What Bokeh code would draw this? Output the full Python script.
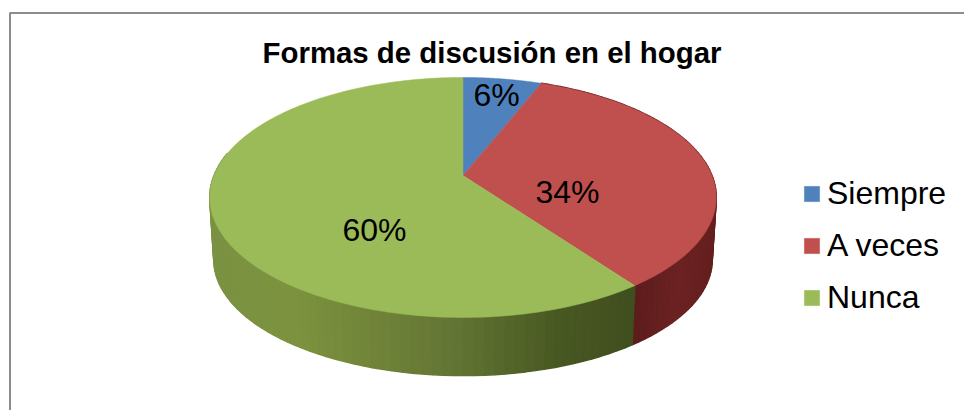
import numpy as np
from bokeh.plotting import figure
from bokeh.models import Range1d, Legend, LegendItem
from bokeh.core.properties import value
from bokeh.embed import file_html
from bokeh.resources import INLINE

TITLE = "Formas de discusión en el hogar"
CATEGORIES = ["Siempre", "A veces", "Nunca"]
VALUES = [6, 34, 60]
LABELS = ["6%", "34%", "60%"]
COLORS = ["#4f81bd", "#c0504d", "#9bbb59"]
FONT = "Liberation Sans"

# Projection of the tilted disc (picture pixels)
CX, CY, A, B, K = 462.5, 175, 249, 116, 0.183
A2, B2, OFF = 245, 112, 63

def top(t):
    u, v = np.sin(t), np.cos(t)
    w = 1 + K * v
    return CX + A * u / w, CY - B * v / w

def bottom(t):
    u, v = np.sin(t), np.cos(t)
    w = 1 + K * v
    return CX + A2 * u / w, CY + OFF - B2 * v / w

p = figure(width=964, height=410, output_backend="svg", toolbar_location=None,
           x_range=Range1d(0, 964), y_range=Range1d(410, 0), min_border=0,
           x_axis_type=None, y_axis_type=None, outline_line_color=None)
p.grid.visible = False

# chart frame
p.line([964, 9.5, 9.5], [12.5, 12.5, 410], line_color="#8c8c8c", line_width=2)

edges = np.cumsum([0] + VALUES) / sum(VALUES) * 2 * np.pi

def blend(stops, x):
    xs = [s[0] for s in stops]
    return "#%02x%02x%02x" % tuple(int(round(np.interp(x, xs, [s[1][i] for s in stops]))) for i in range(3))

GREEN_STOPS = [(208, (122, 146, 66)), (300, (124, 146, 62)), (350, (116, 136, 58)),
               (450, (100, 118, 52)), (560, (72, 88, 34)), (635, (64, 78, 30))]
RED_STOPS = [(632, (92, 28, 28)), (680, (108, 34, 34)), (717, (100, 30, 30))]

# rim, drawn as thin strips
def rim(t0, t1, stops):
    ts = np.linspace(t0, t1, 70)
    for a, b in zip(ts[:-1], ts[1:]):
        xa, ya = top(a); xb, yb = top(b)
        xc, yc = bottom(b); xd, yd = bottom(a)
        col = blend(stops, (xa + xb) / 2)
        p.patch([xa, xb, xc, xd], [ya, yb, yc, yd], fill_color=col, line_color=col, line_width=1.5)

rim(edges[1], edges[2], RED_STOPS)
rim(3 * np.pi / 2 + 0.2, edges[2], GREEN_STOPS)

# top surface
items = []
for i, (cat, col) in enumerate(zip(CATEGORIES, COLORS)):
    ts = np.linspace(edges[i], edges[i + 1], 160)
    xs, ys = top(ts)
    r = p.patch([CX] + list(xs), [CY] + list(ys), fill_color=col, line_color=col, line_width=0.5)
    items.append(LegendItem(label=cat, renderers=[r]))

# data labels
LX = [496, 567, 374]
LY = [94, 191, 229]
p.text(LX, LY, text=LABELS, text_font=value(FONT), text_font_size="32px",
       text_align="center", text_baseline="middle", text_color="black")

p.text([491.5], [52], text=[TITLE], text_font=value(FONT), text_font_size="29.4px",
       text_font_style="bold", text_align="center", text_baseline="middle", text_color="black")

legend = Legend(items=items, location=(802, 94), orientation="vertical",
                label_text_font=FONT, label_text_font_size="32px", label_text_color="black",
                glyph_width=19, glyph_height=19, label_standoff=6, spacing=15, padding=0, margin=0,
                border_line_color=None, background_fill_alpha=0, label_height=36)
p.add_layout(legend, "center")

open("out.html", "w").write(file_html(p, INLINE))
